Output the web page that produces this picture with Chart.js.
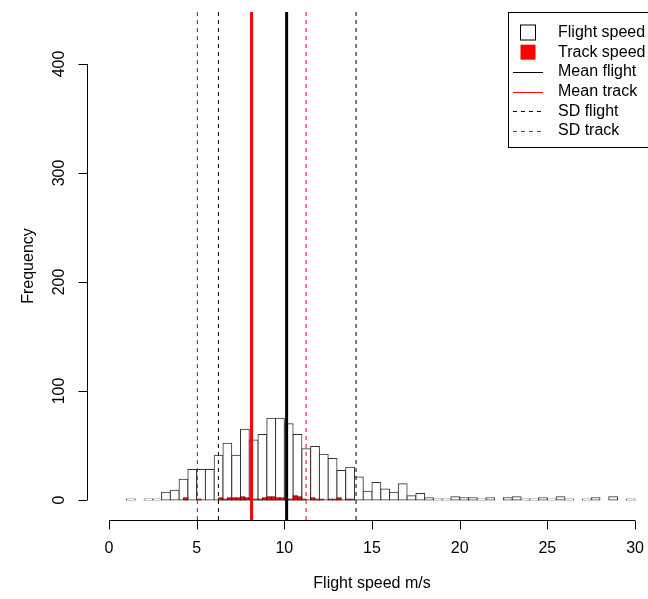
<!DOCTYPE html>
<html>
<head>
<meta charset="utf-8">
<script src="https://cdn.jsdelivr.net/npm/chart.js@4.4.1/dist/chart.umd.min.js"></script>
<style>
  html, body { margin: 0; padding: 0; background: #fff; }
  canvas { display: block; }
</style>
</head>
<body>
<canvas id="hist" width="648" height="599"></canvas>
<script>
// flight speed histogram, 0.5 m/s bins from 0.5 to 30
const flightStart = 0.5;
const flightWidth = 0.5;
const flightCounts = [0, 1, 0, 1, 1, 7, 9, 19, 28, 28,
    28, 41, 52, 41, 65, 55, 60, 75, 75, 70,
    60, 47, 49, 42, 38, 27, 30, 21, 8, 16,
    10, 7, 15, 4, 6, 2, 1, 1, 3, 2,
    2, 1, 2, 0, 2, 3, 1, 1, 2, 1,
    3, 1, 0, 1, 2, 0, 3, 0, 1];

// track speed histogram, 0.25 m/s bins from 4 to 14
const trackStart = 4;
const trackWidth = 0.25;
const trackCounts = [0, 2, 0, 0, 1, 0, 0, 0, 0, 2,
    1, 2, 2, 2, 3, 2, 0, 1, 1, 2,
    3, 3, 2, 2, 1, 1, 4, 3, 1, 0,
    2, 1, 1, 0, 1, 1, 2, 0, 1, 1];

const meanFlight = 10.13;
const meanTrack = 8.13;
const sdFlight = [6.24, 14.09];
const sdTrack = [5.04, 11.24];

const xTicks = [0, 5, 10, 15, 20, 25, 30];
const yTicks = [0, 100, 200, 300, 400];
const xTitle = 'Flight speed m/s';
const yTitle = 'Frequency';
const legendLabels = ['Flight speed', 'Track speed', 'Mean flight', 'Mean track', 'SD flight', 'SD track'];

const FONT = '16px "Liberation Sans", Arial, sans-serif';
const X_MIN = -1.198, X_MAX = 30.74;
const Y_MIN = -18.35, Y_MAX = 447.7;

function binPoints(start, width, counts) {
    return counts.map((c, i) => ({ x: start + width * i + width / 2, y: c }));
}

function vline(v) {
    return [{ x: v, y: Y_MIN }, { x: v, y: Y_MAX }];
}

function lineSet(v, color, width, dash) {
    return {
        type: 'line',
        data: vline(v),
        borderColor: color,
        borderWidth: width,
        borderDash: dash,
        pointRadius: 0,
        xAxisID: 'x',
        yAxisID: 'y',
        order: 1
    };
}

// R style axes and legend
const rAxes = {
    id: 'rAxes',
    afterDraw(chart) {
        const { ctx, chartArea, scales: { x, y } } = chart;
        ctx.save();
        ctx.strokeStyle = '#000';
        ctx.fillStyle = '#000';
        ctx.lineWidth = 1;
        ctx.font = FONT;

        const ay = Math.round(chartArea.bottom) + 0.5;
        ctx.beginPath();
        ctx.moveTo(x.getPixelForValue(xTicks[0]), ay);
        ctx.lineTo(x.getPixelForValue(xTicks[xTicks.length - 1]), ay);
        xTicks.forEach(t => {
            const px = Math.round(x.getPixelForValue(t)) + 0.5;
            ctx.moveTo(px, ay);
            ctx.lineTo(px, ay + 9);
        });
        const ax = Math.round(chartArea.left) - 0.5;
        ctx.moveTo(ax, y.getPixelForValue(yTicks[0]));
        ctx.lineTo(ax, y.getPixelForValue(yTicks[yTicks.length - 1]));
        yTicks.forEach(t => {
            const py = Math.round(y.getPixelForValue(t)) + 0.5;
            ctx.moveTo(ax, py);
            ctx.lineTo(ax - 9, py);
        });
        ctx.stroke();

        ctx.textAlign = 'center';
        ctx.textBaseline = 'middle';
        xTicks.forEach(t => ctx.fillText(String(t), x.getPixelForValue(t), ay + 28));
        ctx.fillText(xTitle, x.getPixelForValue(15), ay + 63);

        yTicks.forEach(t => {
            ctx.save();
            ctx.translate(ax - 28, y.getPixelForValue(t));
            ctx.rotate(-Math.PI / 2);
            ctx.fillText(String(t), 0, 0);
            ctx.restore();
        });
        ctx.save();
        ctx.translate(ax - 59, (chartArea.top + chartArea.bottom) / 2);
        ctx.rotate(-Math.PI / 2);
        ctx.fillText(yTitle, 0, 0);
        ctx.restore();

        // legend box
        const lx = 508.5, ly = chartArea.top + 0.5;
        ctx.fillStyle = '#fff';
        ctx.fillRect(lx, ly, 160, 135);
        ctx.strokeRect(lx, ly, 160, 135);
        ctx.textAlign = 'left';
        legendLabels.forEach((lab, i) => {
            const cy = ly + 20 + i * 19.7;
            const sx = 528;
            ctx.setLineDash([]);
            if (i === 0) {
                ctx.fillStyle = '#fff';
                ctx.strokeStyle = '#000';
                ctx.fillRect(sx - 7.5, cy - 7.5, 15, 15);
                ctx.strokeRect(sx - 7.5, cy - 7.5, 15, 15);
            } else if (i === 1) {
                ctx.fillStyle = '#ff0000';
                ctx.fillRect(sx - 7.5, cy - 7.5, 15, 15);
            } else {
                ctx.strokeStyle = (i % 2 === 0) ? '#000' : '#ff0000';
                if (i >= 4) ctx.setLineDash([4, 4]);
                ctx.beginPath();
                ctx.moveTo(513, Math.round(cy) + 0.5);
                ctx.lineTo(543, Math.round(cy) + 0.5);
                ctx.stroke();
            }
            ctx.setLineDash([]);
            ctx.fillStyle = '#000';
            ctx.fillText(lab, 558, cy);
        });
        ctx.restore();
    }
};

new Chart(document.getElementById('hist'), {
    type: 'bar',
    data: {
        datasets: [
            lineSet(meanFlight, '#000', 3, []),
            lineSet(meanTrack, '#ff0000', 3, []),
            lineSet(sdFlight[0], '#000', 1, [4, 4]),
            lineSet(sdFlight[1], '#000', 1, [4, 4]),
            lineSet(sdTrack[0], '#ff0000', 1, [4, 4]),
            lineSet(sdTrack[1], '#ff0000', 1, [4, 4]),
            {
                label: 'Track speed',
                data: binPoints(trackStart, trackWidth, trackCounts),
                backgroundColor: '#ff0000',
                borderColor: '#700000',
                borderWidth: 1,
                borderSkipped: false,
                inflateAmount: 0.5,
                barPercentage: 1,
                categoryPercentage: 1,
                grouped: false,
                xAxisID: 'x2',
                yAxisID: 'y',
                order: 2
            },
            {
                label: 'Flight speed',
                data: binPoints(flightStart, flightWidth, flightCounts),
                backgroundColor: '#ffffff',
                borderColor: '#333',
                borderWidth: 1,
                borderSkipped: false,
                inflateAmount: 0.5,
                barPercentage: 1,
                categoryPercentage: 1,
                grouped: false,
                xAxisID: 'x',
                yAxisID: 'y',
                order: 3
            }
        ]
    },
    options: {
        responsive: false,
        animation: false,
        devicePixelRatio: 1,
        layout: { padding: { left: 88, top: 12, right: 0, bottom: 79 } },
        plugins: {
            legend: { display: false },
            tooltip: { enabled: false }
        },
        scales: {
            x: {
                type: 'linear', min: X_MIN, max: X_MAX, display: false,
                afterBuildTicks: s => { s.ticks = []; }
            },
            x2: {
                type: 'linear', min: X_MIN, max: X_MAX, display: false,
                afterBuildTicks: s => { s.ticks = []; }
            },
            y: {
                type: 'linear', min: Y_MIN, max: Y_MAX, display: false
            }
        }
    },
    plugins: [rAxes]
});
</script>
</body>
</html>
